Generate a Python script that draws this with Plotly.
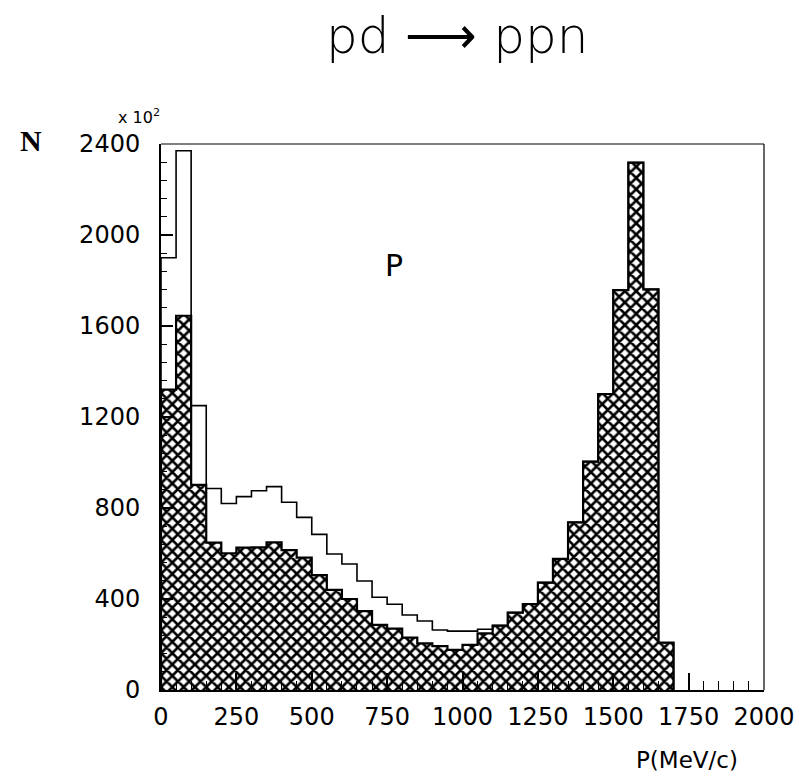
import plotly.graph_objects as go

# ---- data (bins of 50 MeV/c from 0 to 2000) ----
bin_width = 50
bin_edges = list(range(0, 2001, bin_width))
# total (open) histogram
open_counts = [1900, 2370, 1250, 886, 820, 850, 876, 894, 825, 759,
               684, 598, 554, 479, 408, 377, 330, 303, 264, 259,
               259, 267, 283, 340, 378, 472, 576, 737, 1004, 1301,
               1758, 2318, 1761, 208, 0, 0, 0, 0, 0, 0]
# hatched histogram
hatched_counts = [1320, 1645, 902, 648, 601, 626, 627, 649, 615, 582,
                  505, 440, 400, 347, 286, 270, 230, 205, 193, 176,
                  198, 249, 283, 340, 378, 472, 576, 737, 1004, 1301,
                  1758, 2318, 1761, 208, 0, 0, 0, 0, 0, 0]
x_ticks = [0, 250, 500, 750, 1000, 1250, 1500, 1750, 2000]
y_ticks = [0, 400, 800, 1200, 1600, 2000, 2400]

centers = [e + bin_width / 2 for e in bin_edges[:-1]]


def step_xy(counts):
    last = max(i for i, c in enumerate(counts) if c > 0)
    xs = [bin_edges[0]] + bin_edges[:last + 1] + [bin_edges[last + 1]]
    ys = [0] + counts[:last + 1] + [0]
    return xs, ys


fig = go.Figure()

ox, oy = step_xy(open_counts)
fig.add_trace(go.Scatter(x=ox, y=oy, mode="lines", line=dict(shape="hv", color="black", width=1.6),
                         hoverinfo="skip", showlegend=False))

fig.add_trace(go.Bar(x=centers, y=hatched_counts, width=bin_width,
                     marker=dict(color="white", line=dict(width=0),
                                 pattern=dict(shape="x", fgcolor="black", bgcolor="white",
                                              size=8, solidity=0.55, fillmode="replace")),
                     showlegend=False))

hx, hy = step_xy(hatched_counts)
fig.add_trace(go.Scatter(x=hx, y=hy, mode="lines", line=dict(shape="hv", color="black", width=2.2),
                         hoverinfo="skip", showlegend=False))

L, R, T, B = 161, 40, 144, 94
W, H = 807, 784
pw, ph = W - L - R, H - T - B


def px(xp):
    return (xp - L) / pw


def py(yp):
    return (H - B - yp) / ph


fig.update_layout(
    width=W, height=H,
    margin=dict(l=L, r=R, t=T, b=B, pad=0),
    paper_bgcolor="white", plot_bgcolor="white",
    bargap=0,
    font=dict(family="DejaVu Sans", size=24, color="black"),
    xaxis=dict(range=[0, 2000], tickvals=x_ticks, ticks="inside", ticklen=17, tickwidth=1.5,
               tickcolor="black", showgrid=False, zeroline=False,
               showline=True, linecolor="black", linewidth=2, mirror=False,
               minor=dict(dtick=50, ticks="inside", ticklen=9, tickwidth=1.3, tickcolor="black",
                          showgrid=False),
               ticklabelstandoff=4,
               tickfont=dict(family="DejaVu Sans", size=24)),
    yaxis=dict(range=[0, 2400], tickvals=y_ticks, ticks="inside", ticklen=12, tickwidth=1.5,
               tickcolor="black", showgrid=False, zeroline=False,
               showline=True, linecolor="black", linewidth=2, mirror=False,
               minor=dict(dtick=80, ticks="inside", ticklen=6, tickwidth=1.3, tickcolor="black",
                          showgrid=False),
               ticklabelstandoff=14,
               tickfont=dict(family="DejaVu Sans", size=24)),
)

# thin top and right frame lines
fig.add_shape(type="line", xref="paper", yref="paper", x0=0, x1=1, y0=1, y1=1,
              line=dict(color="black", width=1.2))
fig.add_shape(type="line", xref="paper", yref="paper", x0=1, x1=1, y0=0, y1=1,
              line=dict(color="black", width=1.2))

fig.add_annotation(text="pd ⟶ ppn", xref="paper", yref="paper", x=px(458), y=py(36),
                   showarrow=False, xanchor="center", yanchor="middle",
                   font=dict(family="DejaVu Sans", size=50, weight=300))
fig.add_annotation(text="<b>N</b>", xref="paper", yref="paper", x=px(30), y=py(140),
                   showarrow=False, xanchor="center", yanchor="middle",
                   font=dict(family="Liberation Serif", size=30))
fig.add_annotation(text="x 10<sup>2</sup>", xref="paper", yref="paper", x=px(139), y=py(117),
                   showarrow=False, xanchor="center", yanchor="middle",
                   font=dict(family="DejaVu Sans", size=16))
fig.add_annotation(text="P", xref="paper", yref="paper", x=px(395), y=py(265),
                   showarrow=False, xanchor="center", yanchor="middle",
                   font=dict(family="DejaVu Sans", size=30))
fig.add_annotation(text="P(MeV/c)", xref="paper", yref="paper", x=px(690), y=py(760),
                   showarrow=False, xanchor="center", yanchor="middle",
                   font=dict(family="DejaVu Sans", size=23))

fig.write_html("out.html")
